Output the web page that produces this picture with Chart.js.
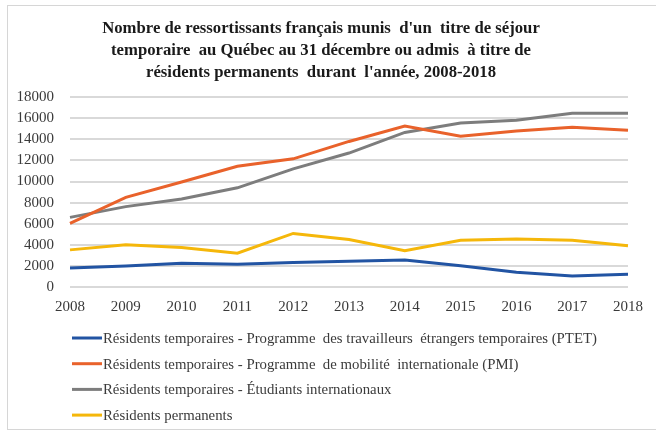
<!DOCTYPE html>
<html lang="fr">
<head>
<meta charset="utf-8">
<title>Ressortissants français au Québec 2008-2018</title>
<script src="https://cdn.jsdelivr.net/npm/chart.js@4"></script>
<style>
    html, body { margin: 0; padding: 0; background: #fff; overflow: hidden; }
    #frame {
        position: absolute; left: 7px; top: 5px; width: 680px; height: 423px;
        border: 1px solid #d6d6d6;
    }
    #wrap { position: absolute; left: 0; top: 0; width: 656px; height: 433px; }
</style>
</head>
<body>
<div id="frame"></div>
<div id="wrap"><canvas id="chart"></canvas></div>
<script>
const years = ['2008', '2009', '2010', '2011', '2012', '2013', '2014', '2015', '2016', '2017', '2018']

const ptet = [1800, 2000, 2250, 2150, 2320, 2450, 2570, 2020, 1400, 1050, 1200]
const pmi = [6030, 8500, 9950, 11450, 12150, 13800, 15250, 14300, 14800, 15150, 14850]
const etudiants = [6600, 7620, 8350, 9400, 11200, 12700, 14650, 15550, 15800, 16480, 16480]
const permanents = [3520, 4000, 3750, 3210, 5080, 4500, 3430, 4440, 4540, 4440, 3900]

const seriesLabels = [
    'Résidents temporaires - Programme  des travailleurs  étrangers temporaires (PTET)',
    'Résidents temporaires - Programme  de mobilité  internationale (PMI)',
    'Résidents temporaires - Étudiants internationaux',
    'Résidents permanents'
]
const seriesColors = ['#2254a3', '#e9622b', '#7d7d7d', '#f5b70a']

const titleLines = [
    "Nombre de ressortissants français munis  d'un  titre de séjour",
    'temporaire  au Québec au 31 décembre ou admis  à titre de',
    "résidents permanents  durant  l'année, 2008-2018"
]

const serif = '"Liberation Serif", "DejaVu Serif", serif'

// Legend drawn as a vertical list under the axis, like the original
const listLegend = {
    id: 'listLegend',
    afterDraw(chart) {
        const ctx = chart.ctx
        const top = chart.chartArea.bottom + 51
        ctx.save()
        ctx.font = '14.8px ' + serif
        ctx.textBaseline = 'middle'
        chart.data.datasets.forEach((ds, i) => {
            const y = top + i * 25.7
            ctx.strokeStyle = ds.borderColor
            ctx.lineWidth = 3
            ctx.beginPath()
            ctx.moveTo(72, y)
            ctx.lineTo(102, y)
            ctx.stroke()
            ctx.fillStyle = '#3a3a3a'
            ctx.fillText(ds.label, 103, y + 1)
        })
        ctx.restore()
    }
}

const datasets = [ptet, pmi, etudiants, permanents].map((values, i) => ({
    label: seriesLabels[i],
    data: values,
    borderColor: seriesColors[i],
    backgroundColor: seriesColors[i],
    borderWidth: 3,
    pointRadius: 0,
    tension: 0,
    fill: false
}))

new Chart(document.getElementById('chart').getContext('2d'), {
    type: 'line',
    data: { labels: years, datasets: datasets },
    plugins: [listLegend],
    options: {
        responsive: true,
        maintainAspectRatio: false,
        animation: false,
        layout: { padding: { left: 14, right: 28, top: 0, bottom: 106 } },
        plugins: {
            legend: { display: false },
            tooltip: { enabled: false },
            title: {
                display: true,
                text: titleLines,
                color: '#1a1a1a',
                font: { family: serif, size: 16.7, weight: 'bold', lineHeight: 1.3 },
                padding: { top: 18, bottom: 14 }
            }
        },
        scales: {
            x: {
                offset: false,
                grid: { display: false, drawTicks: false },
                border: { display: false },
                ticks: {
                    color: '#3a3a3a',
                    font: { family: serif, size: 15 },
                    padding: 11,
                    maxRotation: 0,
                    autoSkip: false
                }
            },
            y: {
                min: 0,
                max: 18000,
                afterFit: (scale) => { scale.width = 56 },
                grid: { color: '#d9d9d9', lineWidth: 2, drawTicks: false },
                border: { display: false },
                ticks: {
                    stepSize: 2000,
                    autoSkip: false,
                    color: '#3a3a3a',
                    font: { family: serif, size: 15 },
                    padding: 16,
                    callback: (value) => String(value)
                }
            }
        }
    }
})
</script>
</body>
</html>
